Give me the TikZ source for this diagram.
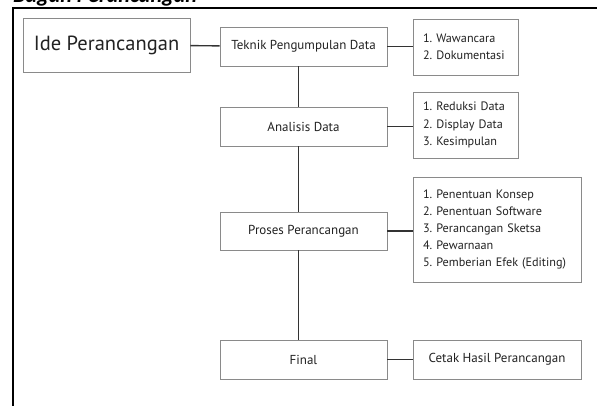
\documentclass[tikz,border=0pt]{standalone}
\usepackage{fontspec}
\setmainfont{PT Sans}
\newfontfamily\titlefont{Carlito}
\usepackage{xcolor}
\definecolor{bagborder}{HTML}{8A8A8A}
\definecolor{bagline}{HTML}{333333}
\definecolor{bagtext}{HTML}{222222}
\usepackage{tikz}
\usetikzlibrary{positioning,calc}
\frenchspacing

\begin{document}
\begin{tikzpicture}[x=1pt,y=-1pt,
  tahap/.style={draw=bagborder, fill=white, line width=0.9pt,
                minimum width=167pt, minimum height=39pt, inner sep=0pt,
                align=center, font=\fontsize{13}{15}\selectfont\color{bagtext}},
  rincian/.style={draw=bagborder, fill=white, line width=0.9pt,
                  inner xsep=10pt, inner ysep=0pt, text width=#1, align=left,
                  font=\fontsize{12.2}{17.2}\selectfont\color{bagtext}},
  hub/.style={draw=bagline, line width=1.4pt}
]
  \useasboundingbox (0,0) rectangle (597,406);

  % judul yang terpotong dan bingkai
  \begin{scope}
    \clip (0,0) rectangle (597,406);
    \node[anchor=base west, inner sep=0pt,
          font=\titlefont\fontsize{22}{22}\selectfont\bfseries\itshape]
      (judul) at (13,3) {Bagan Perancangan};
  \end{scope}
  \draw[line width=1.5pt] (13,406) -- (13,8) -- (597,8);

  % kolom utama
  \node[tahap, minimum height=54pt, font=\fontsize{20.5}{23}\selectfont\color{bagtext}]
    (ide) at (106.5,45) {Ide Perancangan};
  \node[tahap] (teknik) at (303.5,46.5) {Teknik Pengumpulan Data};
  \node[tahap] (analisis) at (303.5,126.5) {Analisis Data};
  \node[tahap, minimum height=38pt] (proses) at (303.5,231) {Proses Perancangan};
  \node[tahap] (final) at (303.5,359.5) {Final};

  % rincian tiap tahap
  \node[rincian=85pt, minimum width=105pt, minimum height=56pt]
    (wawancara) at (465.5,47) {1. Wawancara\\2. Dokumentasi};
  \node[rincian=85pt, minimum width=105pt, minimum height=66pt]
    (reduksi) at (465.5,125) {1. Reduksi Data\\2. Display Data\\3. Kesimpulan};
  \node[rincian=148pt, minimum width=168pt, minimum height=105pt]
    (konsep) at (497,229.5)
    {1. Penentuan Konsep\\2. Penentuan Software\\3. Perancangan Sketsa\\4. Pewarnaan\\5. Pemberian Efek (Editing)\\[8pt]};
  \node[tahap, minimum width=168pt] (cetak) at (497,359.5) {Cetak Hasil Perancangan};

  \draw[hub] (ide) -- (teknik);
  \draw[hub] (teknik) -- (teknik -| wawancara.west);
  \draw[hub] (analisis) -- (analisis -| reduksi.west);
  \draw[hub] (proses) -- (proses -| konsep.west);
  \draw[hub] (final) -- (cetak);

  \draw[hub] ([xshift=-5pt]teknik.south) -- ([xshift=-5pt]analisis.north);
  \draw[hub] ([xshift=-5pt]analisis.south) -- ([xshift=-5pt]proses.north);
  \draw[hub] ([xshift=-5pt]proses.south) -- ([xshift=-5pt]final.north);

\end{tikzpicture}
\end{document}
